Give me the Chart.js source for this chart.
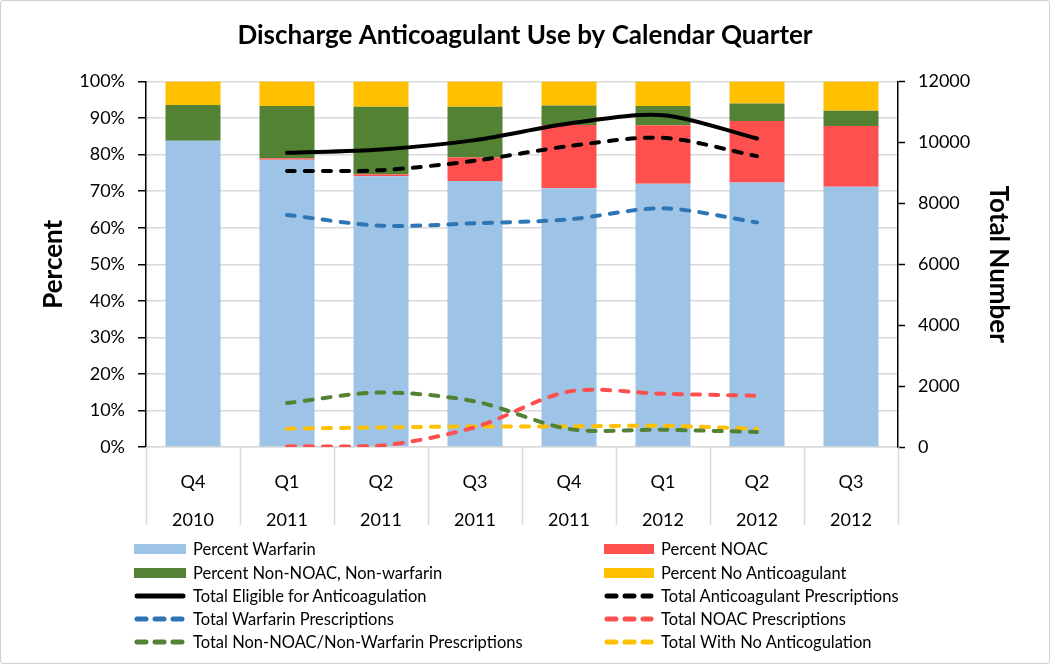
<!DOCTYPE html>
<html>
<head>
<meta charset="utf-8">
<script src="https://cdn.jsdelivr.net/npm/chart.js@4.4.0/dist/chart.umd.min.js"></script>
<style>
  html, body { margin: 0; padding: 0; background: #fff; }
  #wrap { position: relative; width: 1050px; height: 664px; overflow: hidden; }
  #frame { position: absolute; left: 0; top: 0; width: 1050px; height: 664px; box-sizing: border-box; border: 1px solid #d0d0d0; border-radius: 3px; pointer-events: none; }
  #legend { position: absolute; left: 0; top: 0; width: 1050px; height: 664px; pointer-events: none; font-family: Lato, "Liberation Sans", sans-serif; font-size: 16.5px; color: #000; }
  .item { position: absolute; height: 20px; display: flex; align-items: center; white-space: nowrap; }
  .item svg { flex: none; margin-right: 7px; }
</style>
</head>
<body>
<div id="wrap">
  <canvas id="c" width="1050" height="664"></canvas>
  <div id="legend"></div>
  <div id="frame"></div>
</div>
<script>
// ---- data ----
const quarters = ['Q4', 'Q1', 'Q2', 'Q3', 'Q4', 'Q1', 'Q2', 'Q3'];
const years = ['2010', '2011', '2011', '2011', '2011', '2012', '2012', '2012'];

const pctWarfarin = [83.8, 78.6, 74.1, 72.8, 70.8, 72.0, 72.4, 71.2];
const pctNOAC = [0, 0.4, 0.5, 6.4, 17.3, 16.0, 16.8, 16.6];
const pctOther = [9.8, 14.3, 18.5, 13.9, 5.3, 5.3, 4.8, 4.2];
const pctNone = [6.4, 6.7, 6.9, 6.9, 6.6, 6.7, 6.0, 8.0];

const totalEligible = [null, 9660, 9770, 10075, 10620, 10895, 10130, null];
const totalAnticoag = [null, 9060, 9090, 9400, 9880, 10150, 9550, null];
const totalWarfarin = [null, 7620, 7265, 7345, 7475, 7835, 7375, null];
const totalNOAC = [null, 20, 43, 650, 1823, 1748, 1682, null];
const totalOther = [null, 1443, 1790, 1495, 590, 567, 492, null];
const totalNone = [null, 600, 643, 675, 675, 698, 590, null];

const pctTicks = [0, 10, 20, 30, 40, 50, 60, 70, 80, 90, 100];
const numTicks = [0, 2000, 4000, 6000, 8000, 10000, 12000];

// ---- styles ----
const FONT = 'Lato, "Liberation Sans", sans-serif';
const C_BLUE = '#9dc3e6', C_RED = '#ff5050', C_GREEN = '#548235', C_YELLOW = '#ffc000';
const C_LBLUE = '#2e75b6';
const GRID = '#d9d9d9';

function barDs(label, data, color) {
  return { type: 'bar', label, data, backgroundColor: color, borderWidth: 0,
    yAxisID: 'yPct', stack: 's', order: 2, barPercentage: 0.585, categoryPercentage: 1.0 };
}
function lineDs(label, data, color, dashed) {
  return { type: 'line', label, data, borderColor: color, backgroundColor: color,
    borderWidth: 4, borderDash: dashed ? [8, 10] : [], borderCapStyle: 'round', borderJoinStyle: 'round',
    pointRadius: 0, tension: 0.3, fill: false, yAxisID: 'yNum', order: 1, spanGaps: false };
}

const datasets = [
  barDs('Percent Warfarin', pctWarfarin, C_BLUE),
  barDs('Percent NOAC', pctNOAC, C_RED),
  barDs('Percent Non-NOAC, Non-warfarin', pctOther, C_GREEN),
  barDs('Percent No Anticoagulant', pctNone, C_YELLOW),
  lineDs('Total Eligible for Anticoagulation', totalEligible, '#000', false),
  lineDs('Total Anticoagulant Prescriptions', totalAnticoag, '#000', true),
  lineDs('Total Warfarin Prescriptions', totalWarfarin, C_LBLUE, true),
  lineDs('Total NOAC Prescriptions', totalNOAC, C_RED, true),
  lineDs('Total Non-NOAC/Non-Warfarin Prescriptions', totalOther, C_GREEN, true),
  lineDs('Total With No Anticogulation', totalNone, C_YELLOW, true)
];

// category separators below the x axis
const separators = {
  id: 'separators',
  afterDraw(chart) {
    const xs = chart.scales.x;
    const ctx = chart.ctx;
    const n = xs.ticks.length;
    const w = xs.width / n;
    ctx.save();
    ctx.strokeStyle = GRID;
    ctx.lineWidth = 1.5;
    for (let i = 0; i <= n; i++) {
      const x = Math.round(xs.left + i * w) + 0.5;
      ctx.beginPath();
      ctx.moveTo(x, chart.chartArea.bottom);
      ctx.lineTo(x, chart.chartArea.bottom + 78);
      ctx.stroke();
    }
    ctx.restore();
  }
};

const chart = new Chart(document.getElementById('c'), {
  data: { labels: quarters.map((q, i) => [q, years[i]]), datasets },
  options: {
    responsive: false, animation: false, devicePixelRatio: 1,
    layout: { padding: { left: 0, right: 0, top: 0, bottom: 0 } },
    plugins: {
      legend: { display: false },
      tooltip: { enabled: false },
      title: { display: true, text: 'Discharge Anticoagulant Use by Calendar Quarter',
        color: '#000', font: { family: FONT, size: 26, weight: 'bold' }, padding: { top: 20, bottom: 30.3 } }
    },
    scales: {
      x: {
        stacked: true,
        grid: { display: false },
        border: { display: true, color: GRID, width: 1.5 },
        ticks: { color: '#000', font: { family: FONT, size: 18, lineHeight: 2.11 }, padding: 8, maxRotation: 0, autoSkip: false },
        afterFit(s) { s.height = 217; }
      },
      yPct: {
        position: 'left', stacked: true, min: 0, max: 100,
        afterBuildTicks(s) { s.ticks = pctTicks.map(v => ({ value: v })); },
        grid: { color: GRID, lineWidth: 1.5, tickColor: '#000', tickLength: 8, tickWidth: 1.5 },
        border: { color: '#000', width: 1.5 },
        ticks: { color: '#000', font: { family: FONT, size: 18 }, padding: 13, callback: v => v + '%' },
        title: { display: true, text: 'Percent', color: '#000', font: { family: FONT, size: 26, weight: 'bold' }, padding: { top: 38, bottom: 0 } },
        afterFit(s) { s.width = 146; }
      },
      yNum: {
        position: 'right', min: 0, max: 12000,
        afterBuildTicks(s) { s.ticks = numTicks.map(v => ({ value: v })); },
        grid: { drawOnChartArea: false, tickColor: '#000', tickLength: 7, tickWidth: 1.5 },
        border: { color: '#000', width: 1.5 },
        ticks: { color: '#000', font: { family: FONT, size: 18 }, padding: 13, callback: v => String(v) },
        title: { display: true, text: 'Total Number', color: '#000', font: { family: FONT, size: 26, weight: 'bold' }, padding: { top: 36, bottom: 0 } },
        afterFit(s) { s.width = 152; }
      }
    }
  },
  plugins: [separators]
});

// ---- two-column legend built from the chart's datasets ----
const legendEl = document.getElementById('legend');
const colX = [[134, 52], [604, 50]];
const rowY = [549, 572.5, 595.5, 618.5, 641.5];
chart.data.datasets.forEach((ds, i) => {
  const col = i % 2, row = Math.floor(i / 2);
  const [x, mw] = colX[col];
  const item = document.createElement('div');
  item.className = 'item';
  item.style.left = x + 'px';
  item.style.top = (rowY[row] - 10) + 'px';
  const ns = 'http://www.w3.org/2000/svg';
  const svg = document.createElementNS(ns, 'svg');
  svg.setAttribute('width', mw); svg.setAttribute('height', 14);
  if (ds.type === 'bar') {
    const r = document.createElementNS(ns, 'rect');
    r.setAttribute('x', 0); r.setAttribute('y', 2); r.setAttribute('width', mw); r.setAttribute('height', 10);
    r.setAttribute('fill', ds.backgroundColor);
    svg.appendChild(r);
  } else {
    const l = document.createElementNS(ns, 'line');
    l.setAttribute('x1', 3); l.setAttribute('x2', mw - 3); l.setAttribute('y1', 7); l.setAttribute('y2', 7);
    l.setAttribute('stroke', ds.borderColor); l.setAttribute('stroke-width', 5);
    l.setAttribute('stroke-linecap', 'round');
    if (ds.borderDash.length) l.setAttribute('stroke-dasharray', '9 9');
    svg.appendChild(l);
  }
  const t = document.createElement('span');
  t.textContent = ds.label;
  item.appendChild(svg); item.appendChild(t);
  legendEl.appendChild(item);
});
</script>
</body>
</html>
